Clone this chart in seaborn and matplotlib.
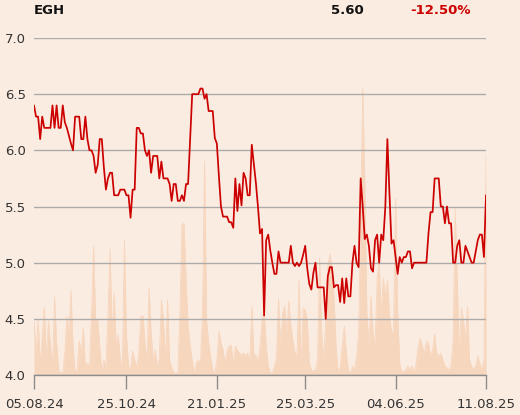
import numpy as np
import pandas as pd
import matplotlib
matplotlib.use("Agg")
import matplotlib.pyplot as plt
import seaborn as sns

# ---------------- data ----------------
ticker = "EGH"
last_price = "5.60"
change_pct = "-12.50%"

price = [
    6.40, 6.30, 6.30, 6.10, 6.30, 6.20, 6.20, 6.20, 6.20, 6.40,
    6.20, 6.40, 6.20, 6.20, 6.40, 6.25, 6.20, 6.13, 6.06, 6.00,
    6.30, 6.30, 6.30, 6.10, 6.10, 6.30, 6.10, 6.00, 6.00, 5.95,
    5.80, 5.87, 6.10, 6.10, 5.85, 5.65, 5.75, 5.80, 5.80, 5.60,
    5.60, 5.60, 5.65, 5.65, 5.65, 5.60, 5.60, 5.40, 5.65, 5.65,
    6.20, 6.20, 6.15, 6.15, 6.00, 5.95, 6.00, 5.80, 5.95, 5.95,
    5.95, 5.75, 5.90, 5.75, 5.75, 5.75, 5.70, 5.55, 5.70, 5.70,
    5.55, 5.55, 5.60, 5.55, 5.70, 5.70, 6.10, 6.50,
    6.50, 6.50, 6.50, 6.55, 6.55, 6.46, 6.50, 6.35, 6.35, 6.35,
    6.11, 6.06, 5.77, 5.50, 5.41, 5.41, 5.41, 5.36, 5.36, 5.31,
    5.75, 5.46, 5.70, 5.51, 5.80, 5.75, 5.60, 5.60, 6.05, 5.88,
    5.71, 5.50, 5.26, 5.30, 4.53, 5.20, 5.25, 5.11, 5.00, 4.90,
    4.90, 5.10, 5.00, 5.00, 5.00, 5.00, 5.00, 5.15, 5.00, 4.97,
    5.00, 4.97, 5.00, 5.07, 5.15, 4.95, 4.81, 4.76, 4.91, 5.00,
    4.78, 4.78, 4.78, 4.78, 4.50, 4.88, 4.96, 4.96, 4.78, 4.80,
    4.80, 4.65, 4.86, 4.64, 4.86, 4.70, 4.70, 5.00, 5.15, 5.00,
    4.96, 5.75, 5.50, 5.21, 5.25, 5.15, 4.95, 4.92, 5.20, 5.25,
    5.00, 5.25, 5.20, 5.50, 6.10, 5.62, 5.17, 5.20, 5.05, 4.90,
    5.05, 5.00, 5.05, 5.05, 5.10, 5.10, 4.95, 5.00, 5.00, 5.00,
    5.00, 5.00, 5.00, 5.00, 5.26, 5.45, 5.45, 5.75, 5.75, 5.75,
    5.50, 5.50, 5.35, 5.50, 5.35, 5.35, 5.00, 5.00, 5.15, 5.20,
    5.00, 5.00, 5.15, 5.10, 5.05, 5.00, 5.00, 5.10, 5.20, 5.25,
    5.25, 5.05, 5.60,
]

volume = [
    56, 20, 56, 10, 40, 68, 15, 54, 30, 8,
    78, 32, 5, 2, 3, 22, 59, 42, 85, 28,
    3, 5, 34, 22, 47, 8, 12, 8, 62, 129,
    55, 56, 28, 3, 15, 9, 60, 126, 42, 82,
    30, 40, 15, 8, 135, 40, 8, 8, 24, 15,
    8, 22, 59, 59, 32, 15, 87, 42, 15, 25,
    8, 18, 75, 55, 15, 75, 15, 8, 2, 2,
    2, 62, 150, 152, 95, 49, 29, 15, 2, 12,
    15, 12, 62, 214, 55, 32, 18, 5, 2, 15,
    44, 32, 25, 12, 25, 29, 30, 12, 29, 25,
    22, 20, 22, 19, 22, 12, 69, 20, 20, 12,
    29, 55, 65, 29, 9, 2, 2, 9, 18, 76,
    29, 62, 69, 42, 74, 49, 35, 22, 19, 95,
    9, 67, 65, 55, 12, 5, 4, 5, 15, 117,
    42, 15, 55, 109, 121, 109, 78, 29, 2, 9,
    29, 49, 22, 5, 2, 9, 5, 19, 42, 162,
    287, 195, 62, 29, 79, 42, 29, 96, 115, 62,
    97, 79, 95, 62, 42, 45, 177, 62, 12, 2,
    4, 5, 9, 5, 9, 2, 12, 29, 37, 29,
    22, 34, 32, 19, 25, 41, 22, 19, 22, 15,
    9, 7, 5, 9, 35, 167, 95, 22, 67, 55,
    35, 69, 15, 9, 5, 10, 19, 12, 5, 15,
    220,
]

tick_pos = [0, 45, 89, 132, 176, 220]
tick_labels = ["05.08.24", "25.10.24", "21.01.25", "25.03.25", "04.06.25", "11.08.25"]
y_ticks = [4.0, 4.5, 5.0, 5.5, 6.0, 6.5, 7.0]

# ---------------- style ----------------
bg = "#FBECE1"
vol_color = "#F7D6BE"
line_color = "#CC0000"
grid_color = "#ABABAB"
text_color = "#333333"

sns.set_theme(style="white")
plt.rcParams["font.family"] = ["DejaVu Sans"]

df = pd.DataFrame({"idx": np.arange(len(price)), "price": price, "volume": volume})

fig = plt.figure(figsize=(5.2, 4.15), dpi=100, facecolor=bg)
rect = [34 / 520, 1 - 375 / 415, 452 / 520, 337 / 415]

ax_vol = fig.add_axes(rect, facecolor=bg)
ax_vol.fill_between(df["idx"], df["volume"], 0, color=vol_color, lw=0)
sns.lineplot(data=df, x="idx", y="volume", ax=ax_vol, color=vol_color, lw=0.6)
ax_vol.set_xlim(0, len(price) - 1)
ax_vol.set_ylim(0, 337)
ax_vol.set_axis_off()

ax = fig.add_axes(rect)
ax.patch.set_visible(False)
sns.lineplot(data=df, x="idx", y="price", ax=ax, color=line_color, lw=1.25, zorder=3)
ax.set_xlim(0, len(price) - 1)
ax.set_ylim(4.0, 7.0)
ax.set_yticks(y_ticks)
ax.set_yticklabels([f"{v:.1f}" for v in y_ticks])
ax.set_xticks(tick_pos)
ax.set_xticklabels(tick_labels)
ax.set_xlabel("")
ax.set_ylabel("")
ax.grid(axis="y", color=grid_color, lw=1.0)
ax.grid(axis="x", visible=False)
for s in ["top", "right", "left"]:
    ax.spines[s].set_visible(False)
ax.spines["bottom"].set_color("#8C8C8C")
ax.spines["bottom"].set_linewidth(1.0)
ax.tick_params(axis="x", direction="out", length=10, width=1.0, color="#8C8C8C",
               labelsize=9.5, labelcolor=text_color, pad=6.5, bottom=True)
ax.tick_params(axis="y", length=0, labelsize=9.5, labelcolor=text_color, pad=6)

fig.text(34 / 520, 1 - 10 / 415, ticker, ha="left", va="center",
         fontsize=9.5, fontweight="bold", color="#111111")
fig.text(364 / 520, 1 - 10 / 415, last_price, ha="right", va="center",
         fontsize=9.5, fontweight="bold", color="#111111")
fig.text(471 / 520, 1 - 10 / 415, change_pct, ha="right", va="center",
         fontsize=9.5, fontweight="bold", color="#CC0000")

fig.savefig("out.png", dpi=100, facecolor=bg)
